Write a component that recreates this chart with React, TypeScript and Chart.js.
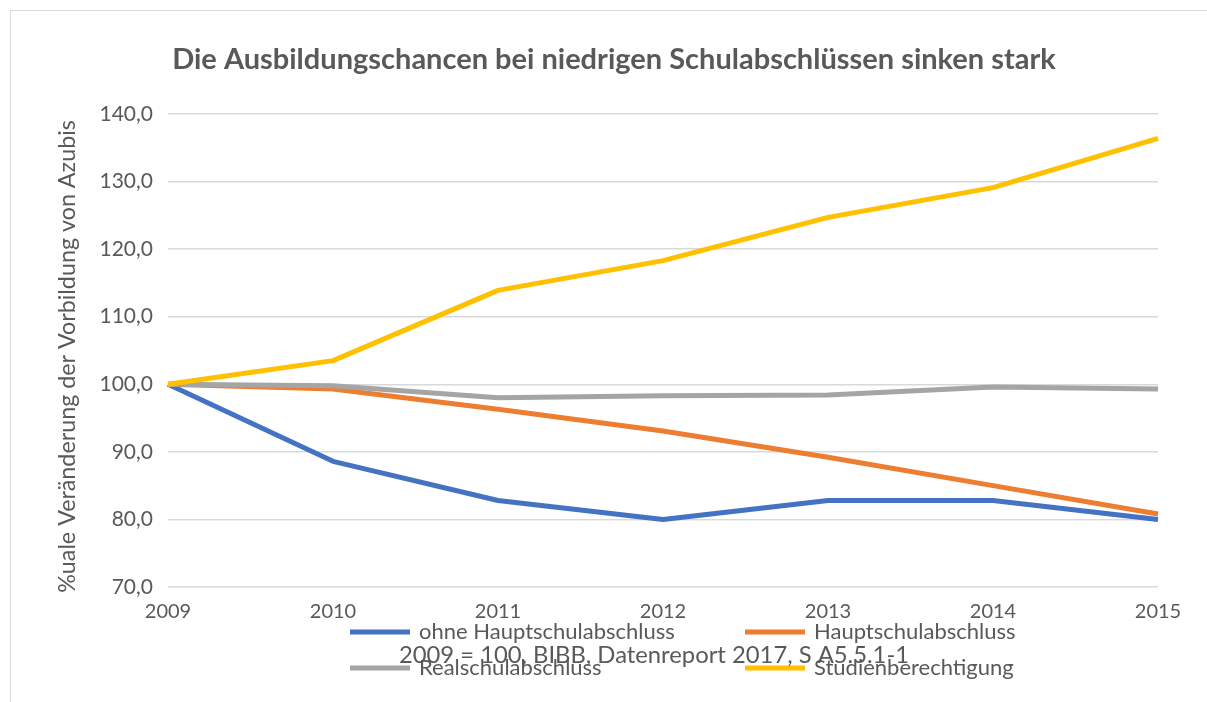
import React, { useEffect, useRef } from "react";
import { Chart, registerables } from "chart.js";

Chart.register(...registerables);

const years = ["2009", "2010", "2011", "2012", "2013", "2014", "2015"];
const ohneHauptschulabschluss = [100, 88.6, 82.8, 80.0, 82.8, 82.8, 80.0];
const hauptschulabschluss = [100, 99.3, 96.3, 93.1, 89.2, 85.0, 80.8];
const realschulabschluss = [100, 99.8, 98.0, 98.3, 98.4, 99.6, 99.3];
const studienberechtigung = [100, 103.5, 113.9, 118.3, 124.7, 129.1, 136.4];
const seriesLabels = [
  "ohne Hauptschulabschluss",
  "Hauptschulabschluss",
  "Realschulabschluss",
  "Studienberechtigung",
];
const seriesColors = ["#4472C4", "#ED7D31", "#A5A5A5", "#FFC000"];
const yMin = 70;
const yMax = 140;
const yStep = 10;
const titleText = "Die Ausbildungschancen bei niedrigen Schulabschlüssen sinken stark";
const yAxisTitle = "%uale Veränderung der Vorbildung von Azubis";
const footnote = "2009 = 100, BIBB, Datenreport 2017, S A5.5.1-1";

const TEXT = "#595959";
const FONT = "Lato, 'Open Sans', sans-serif";

const decorPlugin = {
  id: "decor",
  afterDraw(chart: any) {
    const { ctx, chartArea } = chart;
    ctx.save();
    // Title
    ctx.fillStyle = TEXT;
    ctx.textAlign = "center";
    ctx.textBaseline = "middle";
    ctx.font = `bold 29px ${FONT}`;
    ctx.fillText(titleText, chart.width / 2, 49);

    // Y axis title (rotated)
    ctx.save();
    ctx.translate(chartArea.left - 101, (chartArea.top + chartArea.bottom) / 2 + 6);
    ctx.rotate(-Math.PI / 2);
    ctx.font = `23.3px ${FONT}`;
    ctx.fillText(yAxisTitle, 0, 0);
    ctx.restore();

    // Legend (2 columns grid)
    const colX = [chartArea.left + 182, chartArea.left + 577];
    const rowY = [chartArea.bottom + 45, chartArea.bottom + 81];
    ctx.font = `22px ${FONT}`;
    ctx.textAlign = "left";
    chart.data.datasets.forEach((ds: any, i: number) => {
      const x = colX[i % 2];
      const y = rowY[Math.floor(i / 2)];
      ctx.strokeStyle = ds.borderColor;
      ctx.lineWidth = 5;
      ctx.lineCap = "butt";
      ctx.beginPath();
      ctx.moveTo(x, y);
      ctx.lineTo(x + 60, y);
      ctx.stroke();
      ctx.fillStyle = TEXT;
      ctx.fillText(ds.label, x + 69, y);
    });

    // Footnote (overlapping the legend as in the original)
    ctx.font = `23.8px ${FONT}`;
    ctx.textAlign = "center";
    ctx.fillStyle = TEXT;
    ctx.fillText(footnote, chartArea.left + 486, chartArea.bottom + 68);
    ctx.restore();
  },
};

export default function App() {
  const canvasRef = useRef<HTMLCanvasElement | null>(null);

  useEffect(() => {
    if (!canvasRef.current) return;
    const values = [
      ohneHauptschulabschluss,
      hauptschulabschluss,
      realschulabschluss,
      studienberechtigung,
    ];
    const chart = new Chart(canvasRef.current, {
      type: "line",
      data: {
        labels: years,
        datasets: values.map((v, i) => ({
          label: seriesLabels[i],
          data: v,
          borderColor: seriesColors[i],
          backgroundColor: seriesColors[i],
          borderWidth: 5,
          pointRadius: 0,
          pointHoverRadius: 0,
          tension: 0,
          fill: false,
          borderJoinStyle: "round" as const,
          borderCapStyle: "butt" as const,
          order: values.length - i,
        })),
      },
      options: {
        animation: false,
        responsive: false,
        layout: { padding: { top: 103, right: 59, bottom: 75, left: 0 } },
        plugins: {
          legend: { display: false },
          title: { display: false },
          tooltip: { enabled: false },
        },
        scales: {
          x: {
            type: "category",
            offset: false,
            grid: { display: false },
            border: { display: false },
            ticks: {
              color: TEXT,
              font: { family: FONT, size: 20 },
              padding: 5,
              maxRotation: 0,
              autoSkip: false,
            },
            afterFit: (scale: any) => {
              scale.height = 40;
            },
          },
          y: {
            min: yMin,
            max: yMax,
            grid: { color: "#D9D9D9", lineWidth: 1.5, drawTicks: false },
            border: { display: false },
            ticks: {
              stepSize: yStep,
              color: TEXT,
              font: { family: FONT, size: 21 },
              padding: 15,
              callback: (v: any) => Number(v).toFixed(1).replace(".", ","),
            },
            afterFit: (scale: any) => {
              scale.width = 157;
            },
          },
        },
      },
      plugins: [decorPlugin],
    });
    return () => chart.destroy();
  }, []);

  return (
    <div
      style={{
        position: "fixed",
        left: 0,
        top: 0,
        width: 1207,
        height: 702,
        overflow: "hidden",
        background: "#ffffff",
      }}
    >
      <div
        style={{
          position: "absolute",
          left: 10,
          top: 10,
          width: 1300,
          height: 800,
          border: "1px solid #D9D9D9",
          boxSizing: "border-box",
        }}
      />
      <canvas
        ref={canvasRef}
        width={1206}
        height={691}
        style={{ position: "absolute", left: 11, top: 11, width: 1206, height: 691 }}
      />
    </div>
  );
}
